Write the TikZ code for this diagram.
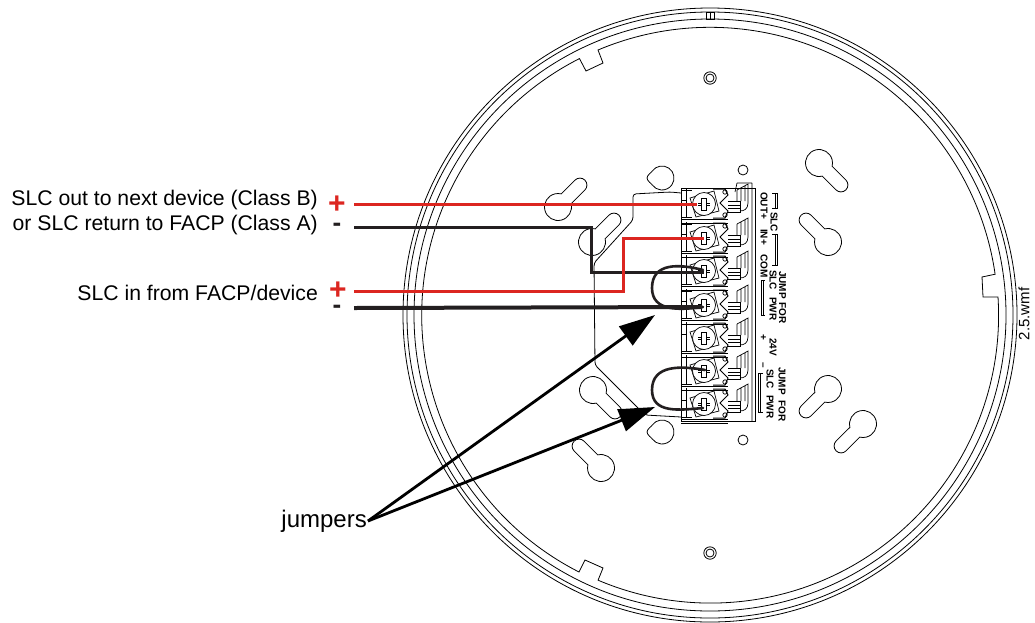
\documentclass[tikz,border=0pt]{standalone}
\usepackage{fontspec}
\setmainfont{Liberation Sans}
\usetikzlibrary{arrows.meta}
\definecolor{wirered}{RGB}{220,38,32}
\definecolor{wireblack}{RGB}{35,31,32}
\tikzset{
  plate/.style={line width=0.8pt,black},
  thin part/.style={line width=0.7pt,black},
  wire/.style={line width=3pt,line join=miter},
  jumper/.style={line width=2.6pt,wireblack,line cap=round},
  pointer/.style={line width=2.8pt,-{Triangle[length=36pt,width=23pt]}},
  label/.style={anchor=east,inner sep=0pt,font=\fontsize{21.2}{21.2}\selectfont},
  sign/.style={inner sep=0pt,font=\fontsize{30}{30}\selectfont\bfseries},
  dash sign/.style={inner sep=0pt,font=\fontsize{26}{26}\selectfont\bfseries},
  term/.style={rotate=-90,inner sep=0pt,anchor=west,font=\fontsize{10}{10}\selectfont\bfseries}
}
\begin{document}
\begin{tikzpicture}[x=1pt,y=-1pt]
  \useasboundingbox (0,0) rectangle (1035,622);
  \coordinate (cen) at (710,315);
  \foreach\r in{296,303,307}{\draw[plate] (cen) circle (\r);}
  \draw[plate] (706,12.5) rectangle (714,19) (710,12.5) -- (710,19);
  \draw[plate] (598,50) arc (247.1:351.8:288) -- (982,277) -- (983,297) -- (998,297) arc (356.4:473:288) -- (603,568) -- (585,560) -- (579,572) arc (477:603.1:288) -- (586,71) -- (603,63) -- cycle;
  \foreach\x/\y in{710/78,710/553}{\draw[plate] (\x,\y) circle (6.2) circle (4);}
  \foreach\x/\y in{743/170,743/440}{\draw[plate] (\x,\y) circle (5);}
  \foreach\x/\y/\a in{558/207/45,592/242/45,593/390/-45,601/468/135,819/163/-45,828/242/135,828/389/-135,863/424/-135}{
    \draw[plate,shift={(\x,\y)},rotate=\a] (31:13.5) arc (31:329:13.5) -- (31,-7) arc (-90:90:7) -- cycle;}
  \foreach\y in{178,432}{\draw[plate] (662,\y) ++(-145:12) arc (-145:145:12) .. controls (652,\y+6) and (647,\y+3) .. (647,\y) .. controls (647,\y-3) and (652,\y-6) .. (652.2,\y-6.9);}
  \draw[plate,rounded corners=3pt] (681,193) -- (670,192) -- (633,194) -- (633,220) -- (594,263) -- (595,365) -- (637,407) -- (645,415) -- (681,417);
  \draw[thin part,fill=white] (681,188) rectangle (755,421);
  \draw[thin part] (752,183) -- (752,421) (737,183) -- (752,183) (737,183) -- (735,192);
  \foreach\y in{204,238,271,305,338,371,404}{
    \begin{scope}[thin part,shift={(704,\y)}]
      \draw (-18,-16) -- (-18,14) (-23,-14) -- (-12,-14) (-23,13) -- (-12,13) (-23,-4) -- (-18,-4);
      \draw (-23,15) -- (24,15) (-23,19) -- (24,19);
      \draw[fill=white] (-14,-6) -- (10,-13) -- (15,7) -- (-8,13) -- cycle;
      \draw[fill=white] (0,0) circle (11.5);
      \draw[fill=white] (-2.5,-6) rectangle (2.5,6) (-6,-1) -- (-2.5,-1) (-6,1) -- (-2.5,1) (2.5,-1) -- (6,-1) (2.5,1) -- (6,1);
      \draw[line width=1pt] (9,-15) -- (21,-15) -- (24,-9) -- (16,-1) -- (24,7) -- (21,14) -- (9,14);
      \draw (21,-12) circle (2.2) (21,11) circle (2.2);
      \draw (24,-3) -- (36,-3) -- (36,8) -- (24,8) (24,1) -- (36,1) (24,4) -- (36,4);
      \draw (33,-14) -- (44,-20) -- (44,-1) .. controls (44,5) and (40,7) .. (36,7) (33,-14) -- (33,-3) (37,-16) -- (37,-3) (41,-18) -- (41,-3);
    \end{scope}}
  \draw[thin part] (772,193) -- (777,193) -- (777,208) -- (772,208) (775,193) -- (775,208);
  \draw[thin part] (772,234) -- (777,234) -- (777,265) -- (772,265) (775,234) -- (775,265);
  \draw[thin part] (765,280) -- (761,280) -- (761,315) -- (765,315) (763,280) -- (763,315);
  \draw[thin part] (763,373) -- (758,373) -- (758,412) -- (763,412) (760,373) -- (760,412);
  \node[term] (outp) at (764,192) {OUT+};
  \node[term] (inp) at (764,229) {IN+};
  \node[term] (com) at (764,254) {COM};
  \node[term] (plusv) at (763,334) {+};
  \node[term] (minusv) at (762,362) {–};
  \node[term] (slc) at (774,212) {SLC};
  \node[term] (slca) at (773,270) {SLC};
  \node[term] (pwra) at (773,297) {PWR};
  \node[term] (jumpa) at (782.5,271) {JUMP};
  \node[term] (fora) at (782.5,302) {FOR};
  \node[term] (volt) at (773,338) {24V};
  \node[term] (slcb) at (770,369) {SLC};
  \node[term] (pwrb) at (770,395) {PWR};
  \node[term] (jumpb) at (782,367) {JUMP};
  \node[term] (forb) at (782,400) {FOR};
  \coordinate (reda) at (354,204);
  \coordinate (redat) at (697,204);
  \coordinate (blacka) at (354,227);
  \coordinate (blackat) at (704,272);
  \coordinate (redb) at (354,291);
  \coordinate (redbt) at (704,238);
  \coordinate (blackb) at (354,308);
  \coordinate (blackbt) at (702,307);
  \draw[wire,wirered] (reda) -- (redat);
  \draw[wire,wireblack] (blacka) -- (591,227) -- (591,272) -- (blackat);
  \draw[wire,wirered] (redb) -- (623,291) -- (623,238) -- (redbt);
  \draw[wire,wireblack,line width=4pt] (blackb) -- (blackbt);
  \draw[jumper] (703,270) .. controls (680,264) and (652,262) .. (652,288) .. controls (652,312) and (680,310) .. (703,307);
  \draw[jumper] (705,370) .. controls (682,366) and (652,364) .. (652,390) .. controls (652,414) and (680,410) .. (703,408);
  \node[label] (slcout) at (318,200) {SLC out to next device (Class B)};
  \node[label] (slcret) at (318,225) {or SLC return to FACP (Class A)};
  \node[label] (slcin) at (318,293) {SLC in from FACP/device};
  \node[label,inner sep=1pt,font=\fontsize{24}{24}\selectfont] (jumpers) at (368,521) {jumpers};
  \node[sign,wirered] (plusa) at (337,205) {+};
  \node[dash sign,wireblack] (minusa) at (337,227) {-};
  \node[sign,wirered] (plusb) at (338,291) {+};
  \node[dash sign,wireblack] (minusb) at (337,309) {-};
  \node[rotate=90,inner sep=0pt,font=\fontsize{15}{15}\selectfont] (wmf) at (1024,314) {2.5.wmf};
  \coordinate (tipa) at (655,315);
  \coordinate (tipb) at (655,407);
  \draw[pointer] (jumpers.east) -- (tipa);
  \draw[pointer] (jumpers.east) -- (tipb);
\end{tikzpicture}
\end{document}
